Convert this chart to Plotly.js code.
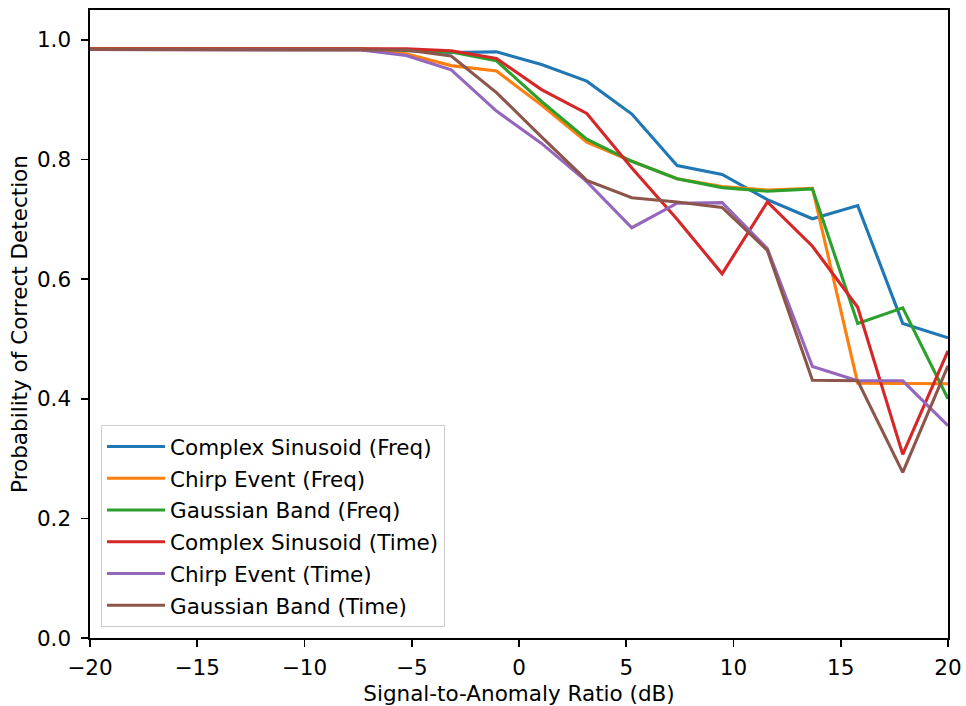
<!DOCTYPE html>
<html>
<head>
<meta charset="utf-8">
<script src="https://cdn.plot.ly/plotly-3.0.1.min.js"></script>
<style>html,body{margin:0;padding:0;background:#fff;}#chart{width:966px;height:706px;}</style>
</head>
<body>
<div id="chart"></div>
<script>
var snr = [-20, -17.89, -15.79, -13.68, -11.58, -9.47, -7.37, -5.26, -3.16, -1.05, 1.05, 3.16, 5.26, 7.37, 9.47, 11.58, 13.68, 15.79, 17.89, 20];

var seriesNames = ["Complex Sinusoid (Freq)", "Chirp Event (Freq)", "Gaussian Band (Freq)",
                   "Complex Sinusoid (Time)", "Chirp Event (Time)", "Gaussian Band (Time)"];

var sinusoidFreq = [0.984, 0.984, 0.984, 0.984, 0.984, 0.984, 0.984, 0.982, 0.979, 0.980, 0.959, 0.931, 0.876, 0.790, 0.775, 0.733, 0.701, 0.723, 0.526, 0.502];
var chirpFreq    = [0.984, 0.984, 0.984, 0.984, 0.984, 0.984, 0.984, 0.977, 0.957, 0.948, 0.891, 0.829, 0.797, 0.768, 0.755, 0.749, 0.752, 0.426, 0.426, 0.425];
var gaussFreq    = [0.985, 0.985, 0.985, 0.985, 0.985, 0.985, 0.985, 0.983, 0.980, 0.965, 0.897, 0.834, 0.797, 0.768, 0.753, 0.747, 0.751, 0.526, 0.552, 0.400];
var sinusoidTime = [0.985, 0.985, 0.985, 0.985, 0.985, 0.985, 0.985, 0.985, 0.982, 0.969, 0.917, 0.877, 0.786, 0.700, 0.609, 0.729, 0.655, 0.553, 0.307, 0.480];
var chirpTime    = [0.984, 0.984, 0.984, 0.984, 0.984, 0.984, 0.983, 0.974, 0.950, 0.881, 0.827, 0.763, 0.686, 0.727, 0.728, 0.651, 0.454, 0.430, 0.430, 0.355];
var gaussTime    = [0.984, 0.984, 0.984, 0.984, 0.984, 0.984, 0.984, 0.983, 0.973, 0.912, 0.838, 0.765, 0.736, 0.729, 0.720, 0.648, 0.431, 0.430, 0.277, 0.455];

var allSeries = [sinusoidFreq, chirpFreq, gaussFreq, sinusoidTime, chirpTime, gaussTime];
var colors = ["#1f77b4", "#ff7f0e", "#2ca02c", "#d62728", "#9467bd", "#8c564b"];

var traces = allSeries.map(function (ys, i) {
  return {
    x: snr, y: ys, type: "scatter", mode: "lines",
    name: seriesNames[i], legendgroup: "g" + i,
    line: {color: colors[i], width: 3.1}
  };
});

var font = {family: "DejaVu Sans, sans-serif", size: 21.5, color: "#000"};

var layout = {
  width: 966, height: 706,
  margin: {l: 90, r: 18, t: 10, b: 68},
  paper_bgcolor: "#fff", plot_bgcolor: "#fff",
  font: font,
  showlegend: true,
  legend: {
    x: 0.0128, y: 0.0175, xanchor: "left", yanchor: "bottom",
    bgcolor: "rgba(255,255,255,0.8)", bordercolor: "#cccccc", borderwidth: 1,
    font: font, tracegroupgap: 0.8, traceorder: "grouped",
    itemwidth: 58
  },
  xaxis: {
    range: [-20, 20], tickvals: [-20, -15, -10, -5, 0, 5, 10, 15, 20],
    ticks: "outside", ticklen: 7, tickwidth: 1.6, tickcolor: "#000",
    ticklabelstandoff: 3,
    showline: true, linecolor: "#000", linewidth: 1.6, mirror: true,
    showgrid: false, zeroline: false,
    title: {text: "Signal-to-Anomaly Ratio (dB)", font: font, standoff: 6}
  },
  yaxis: {
    range: [0, 1.05], tickvals: [0, 0.2, 0.4, 0.6, 0.8, 1.0], tickformat: ".1f",
    ticks: "outside", ticklen: 7, tickwidth: 1.6, tickcolor: "#000",
    ticklabelstandoff: 6,
    showline: true, linecolor: "#000", linewidth: 1.6, mirror: true,
    showgrid: false, zeroline: false,
    title: {text: "Probability of Correct Detection", font: font, standoff: 3}
  }
};

Plotly.newPlot("chart", traces, layout, {displayModeBar: false, staticPlot: true});
</script>
</body>
</html>
